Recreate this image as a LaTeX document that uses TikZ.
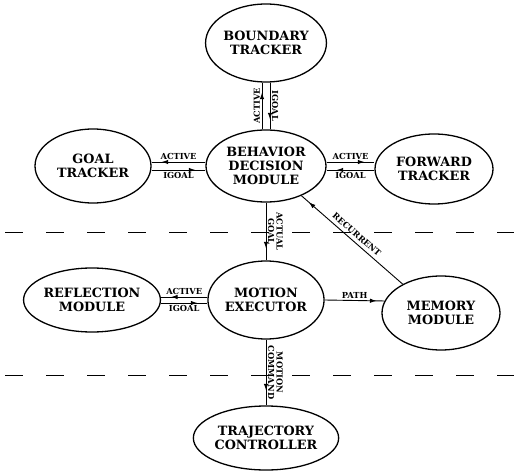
\documentclass[tikz,border=0pt]{standalone}
\usepackage{fontspec}
\setmainfont{DejaVu Serif}
\usetikzlibrary{shapes.geometric,arrows.meta,decorations.markings}
\newcommand{\modnode}[5]{\node[module, minimum width=#3, minimum height=#4] (#1) at #2 {#5};}

\begin{document}
\begin{tikzpicture}[
      x=1pt, y=-1pt,
      module/.style={ellipse, draw=black, line width=1.3pt, inner sep=0pt, align=center, font=\bfseries\fontsize{12.8}{14}\selectfont},
      wire/.style={line width=0.9pt, draw=black},
      flow/.style={wire, decoration={markings, mark=at position #1 with {\arrow{Latex[length=6.5pt,width=4.5pt]}}}, postaction={decorate}},
      flow/.default=-10pt,
      tag/.style={font=\bfseries\fontsize{8.3}{8.5}\selectfont, inner sep=1.5pt, align=center},
      divider/.style={line width=1pt, dash pattern=on 18pt off 23pt, dash phase=36pt}
      ]
  \useasboundingbox (0,0) rectangle (514,473);
  % layer boundaries
  \draw[divider] (0,233) -- (514,233);
  \draw[divider] (0,375) -- (514,375);
  % modules
  \modnode{boundary}{(266,43)}{120pt}{78pt}{BOUNDARY\\TRACKER}
  \modnode{behavior}{(266,166)}{120pt}{72pt}{BEHAVIOR\\DECISION\\MODULE}
  \modnode{goal}{(93,166)}{116pt}{74pt}{GOAL\\TRACKER}
  \modnode{forward}{(434,169)}{118pt}{70pt}{FORWARD\\TRACKER}
  \modnode{reflection}{(92,300)}{118pt}{64pt}{REFLECTION\\MODULE}
  \modnode{motion}{(266,300)}{116pt}{78pt}{MOTION\\EXECUTOR}
  \modnode{memory}{(441,313)}{118pt}{74pt}{MEMORY\\MODULE}
  \modnode{trajectory}{(266,438)}{118pt}{64pt}{TRAJECTORY\\CONTROLLER}
  % links
  \draw[flow] ([xshift=-4pt]behavior.north) -- ([xshift=-4pt]boundary.south)
    node[tag, midway, rotate=90, anchor=south] {ACTIVE};
  \draw[flow] ([xshift=4pt]boundary.south) -- ([xshift=4pt]behavior.north)
    node[tag, midway, rotate=-90, anchor=south] {IGOAL};
  \draw[flow] ([yshift=4pt]behavior.west) -- ([yshift=4pt]goal.east)
    node[tag, midway, above] {ACTIVE};
  \draw[flow] ([yshift=-4pt]goal.east) -- ([yshift=-4pt]behavior.west)
    node[tag, midway, below] {IGOAL};
  \draw[flow] ([yshift=4pt]behavior.east) -- ([yshift=7pt]forward.west)
    node[tag, midway, above] {ACTIVE};
  \draw[flow] ([yshift=-1pt]forward.west) -- ([yshift=-4pt]behavior.east)
    node[tag, midway, below] {IGOAL};
  \draw[flow] ([yshift=3pt]motion.west) -- ([yshift=3pt]reflection.east)
    node[tag, midway, above] {ACTIVE};
  \draw[flow] ([yshift=-3pt]reflection.east) -- ([yshift=-3pt]motion.west)
    node[tag, midway, below] {IGOAL};
  \draw[flow=-12pt] (behavior.south) -- (motion.north)
    node[tag, midway, rotate=-90, anchor=south] {ACTUAL\\GOAL};
  \draw[flow=-8pt] (motion.east) -- (memory.168)
    node[tag, midway, above] {PATH};
  \draw[flow] (memory.143) -- (behavior.-40)
    node[tag, midway, sloped, above=2pt] {RECURRENT};
  \draw[flow=-15pt] (motion.south) -- (trajectory.north)
    node[tag, midway, rotate=-90, anchor=south] {MOTION\\COMMAND};
\end{tikzpicture}
\end{document}
